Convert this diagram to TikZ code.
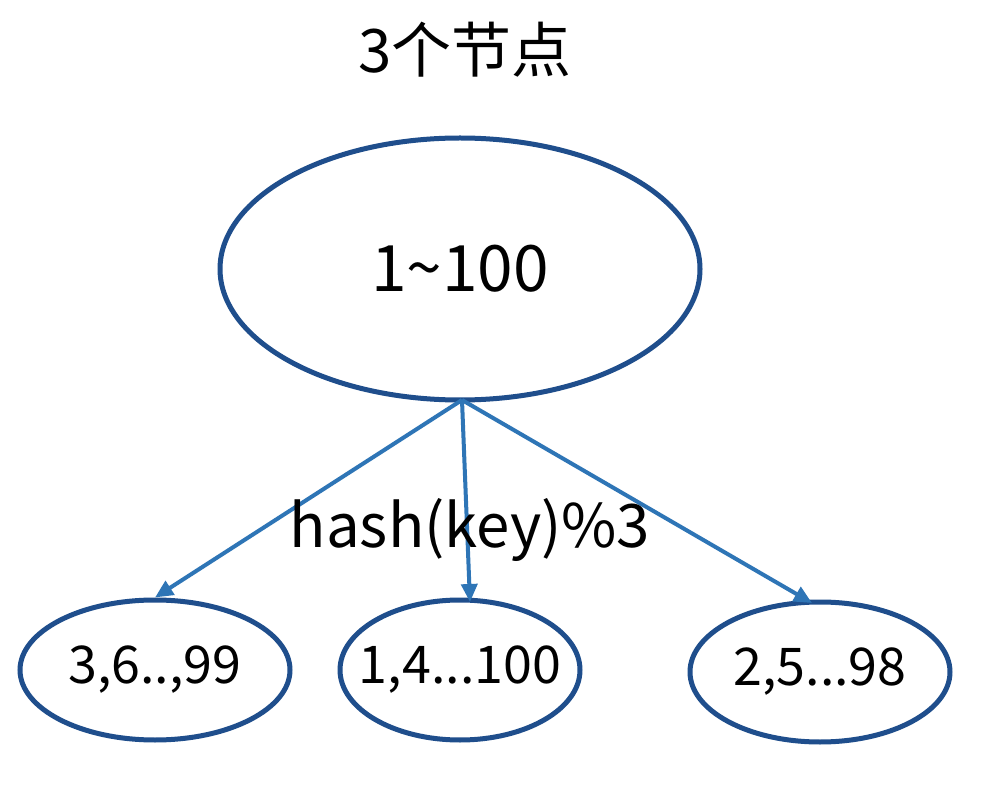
\documentclass[tikz,border=0pt]{standalone}
\usepackage{fontspec}
\setmainfont{Noto Sans CJK SC}
\usetikzlibrary{shapes.geometric,arrows.meta}
\begin{document}
\begin{tikzpicture}[x=1pt,y=-1pt,
  ell/.style={draw=ellblue,line width=5pt,ellipse,inner ysep=0pt,inner xsep=-60pt},
  arr/.style={draw=arrblue,line width=4pt,-{Triangle[length=18pt,width=16pt]}},
  big/.style={font=\fontsize{64}{70}\selectfont},
  mid/.style={font=\fontsize{60}{66}\selectfont},
  sml/.style={font=\fontsize{52}{58}\selectfont}]
\definecolor{ellblue}{HTML}{1F4E8C}
\definecolor{arrblue}{HTML}{2E75B6}
\useasboundingbox[fill=white] (0,0) rectangle (989,786);
\node[mid] (title) at (465,50) {3个节点};
\node[ell,minimum width=480pt,minimum height=262pt,big] (top) at (460,269) {1\textasciitilde100};
\node[ell,minimum width=270pt,minimum height=140pt,sml] (l) at (155,670) {3,6..,99};
\node[ell,minimum width=240pt,minimum height=140pt,sml] (m) at (460,670) {1,4...100};
\node[ell,minimum width=260pt,minimum height=140pt,sml] (r) at (820,672) {2,5...98};
\coordinate (src) at (462,400);
\coordinate (mt) at (470,602);
\coordinate (rt) at (812,603);
\draw[arr] (src) -- (l.north);
\draw[arr] (src) -- (mt);
\draw[arr] (src) -- (rt);
\node[mid] (hash) at (470,530) {hash(key)\%3};
\end{tikzpicture}
\end{document}
